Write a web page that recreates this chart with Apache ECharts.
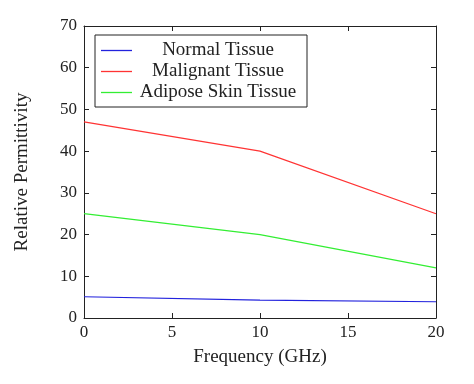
<!DOCTYPE html>
<html>
<head>
<meta charset="utf-8">
<script src="https://cdn.jsdelivr.net/npm/echarts@6/dist/echarts.min.js"></script>
<style>html,body{margin:0;padding:0;background:#fff}#c{width:474px;height:384px}</style>
</head>
<body>
<div id="c"></div>
<script>
const frequency = [0, 10, 20];
const normalTissue = [5.1, 4.3, 3.9];
const malignantTissue = [47, 40, 25];
const adiposeTissue = [25, 20, 12];
const seriesNames = ['Normal Tissue', 'Malignant Tissue', 'Adipose Skin Tissue'];
const seriesColors = ['#2222dd', '#ff3333', '#33ee33'];
const FONT = 'Liberation Serif';

const chart = echarts.init(document.getElementById('c'), null, {renderer: 'canvas'});
const pair = (ys) => frequency.map((x, i) => [x, ys[i]]);
const axisCommon = {
  axisLine: {show: true, onZero: false, lineStyle: {color: '#222', width: 1}},
  axisTick: {show: true, inside: true, length: 5, lineStyle: {color: '#222'}},
  splitLine: {show: false},
  axisLabel: {fontFamily: FONT, fontSize: 17, color: '#222'}
};
const nameStyle = {fontFamily: FONT, fontSize: 19, color: '#222'};
chart.setOption({
  animation: false,
  grid: {left: 84, right: 38, top: 26, bottom: 66},
  legend: {
    orient: 'vertical', left: 95, top: 35,
    data: seriesNames,
    backgroundColor: '#fff', borderColor: '#222', borderWidth: 1,
    padding: [6, 8, 5, 6], itemGap: 2,
    icon: 'rect', itemWidth: 31, itemHeight: 1.3,
    formatter: (n) => '{a|' + n + '}',
    textStyle: {fontFamily: FONT, fontSize: 19, color: '#222',
      rich: {a: {width: 162, align: 'center', fontFamily: FONT, fontSize: 19, lineHeight: 20}}}
  },
  xAxis: [
    Object.assign({}, axisCommon, {type: 'value', min: 0, max: 20, interval: 5,
      name: 'Frequency (GHz)', nameLocation: 'middle', nameGap: 30,
      nameTextStyle: nameStyle,
      axisLabel: Object.assign({}, axisCommon.axisLabel, {margin: 6})}),
    Object.assign({}, axisCommon, {type: 'value', min: 0, max: 20, interval: 5, position: 'top',
      axisLabel: {show: false}})
  ],
  yAxis: [
    Object.assign({}, axisCommon, {type: 'value', min: 0, max: 70, interval: 10,
      name: 'Relative Permittivity', nameLocation: 'middle', nameGap: 52,
      nameTextStyle: nameStyle,
      axisLabel: Object.assign({}, axisCommon.axisLabel, {margin: 7})}),
    Object.assign({}, axisCommon, {type: 'value', min: 0, max: 70, interval: 10, position: 'right',
      axisLabel: {show: false}})
  ],
  series: [normalTissue, malignantTissue, adiposeTissue].map((ys, i) => ({
    name: seriesNames[i], type: 'line', data: pair(ys), symbol: 'none',
    color: seriesColors[i], lineStyle: {width: 1.2, color: seriesColors[i]}
  }))
});
</script>
</body>
</html>
